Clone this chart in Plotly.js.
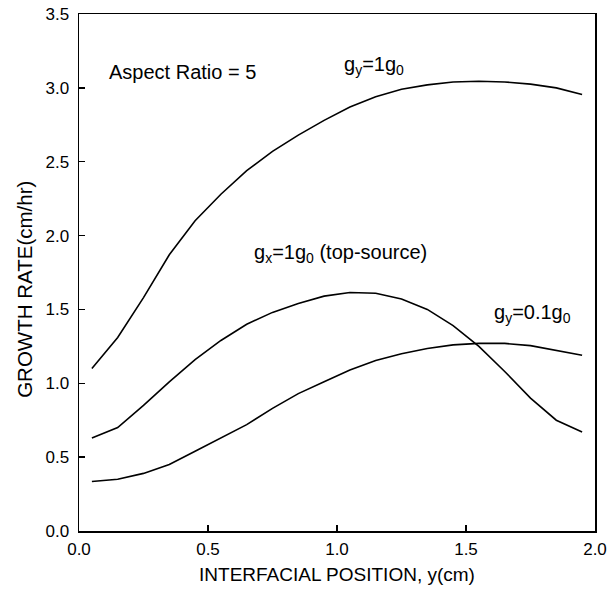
<!DOCTYPE html>
<html>
<head>
<meta charset="utf-8">
<script src="https://cdn.plot.ly/plotly-3.0.1.min.js"></script>
<style>html,body{margin:0;padding:0;background:#fff;}</style>
</head>
<body>
<div id="chart" style="width:616px;height:594px;"></div>
<script>
const position = [0.05,0.15,0.25,0.35,0.45,0.55,0.65,0.75,0.85,0.95,1.05,1.15,1.25,1.35,1.45,1.55,1.65,1.75,1.85,1.95];
const gy1 = [1.10,1.31,1.58,1.87,2.10,2.28,2.44,2.57,2.68,2.78,2.87,2.94,2.99,3.02,3.04,3.045,3.04,3.025,3.00,2.955];
const gx1 = [0.63,0.70,0.85,1.01,1.16,1.29,1.40,1.48,1.54,1.59,1.615,1.61,1.57,1.50,1.39,1.25,1.08,0.90,0.75,0.67];
const gy01 = [0.335,0.35,0.39,0.45,0.54,0.63,0.72,0.83,0.93,1.01,1.09,1.155,1.20,1.235,1.26,1.27,1.27,1.255,1.225,1.19];
const seriesNames = ['g<sub>y</sub>=1g<sub>0</sub>','g<sub>x</sub>=1g<sub>0</sub> (top-source)','g<sub>y</sub>=0.1g<sub>0</sub>'];
const tickVals = [0, 0.5, 1.0, 1.5, 2.0, 2.5, 3.0, 3.5];
const tickText = ['0.0','0.5','1.0','1.5','2.0','2.5','3.0','3.5'];
const xTitle = 'INTERFACIAL POSITION, y(cm)';
const yTitle = 'GROWTH RATE(cm/hr)';

const font = {family: 'Liberation Sans, Arial, sans-serif', color: '#000'};
const mk = (y, name) => ({x: position, y: y, name: name, type: 'scatter', mode: 'lines',
  line: {color: '#000', width: 1.6}, hoverinfo: 'x+y'});

const data = [mk(gy1, seriesNames[0]), mk(gx1, seriesNames[1]), mk(gy01, seriesNames[2])];

const ann = (x, y, text) => ({x: x, y: y, xref: 'x', yref: 'y', text: text, showarrow: false,
  xanchor: 'left', yanchor: 'middle', font: Object.assign({size: 20}, font)});

const layout = {
  width: 616, height: 594,
  margin: {l: 79, r: 21, t: 14, b: 63},
  paper_bgcolor: '#fff', plot_bgcolor: '#fff',
  showlegend: false,
  font: Object.assign({size: 17}, font),
  xaxis: {
    range: [0, 2.0], tickvals: tickVals.slice(0, 5), ticktext: tickText.slice(0, 5),
    ticks: 'inside', ticklen: 6, tickwidth: 1.5, tickcolor: '#000',
    showline: true, linecolor: '#000', linewidth: 1.5, mirror: true,
    showgrid: false, zeroline: false,
    ticklabelstandoff: 2,
    tickfont: Object.assign({size: 17}, font),
    title: {text: xTitle, font: Object.assign({size: 19}, font), standoff: 10}
  },
  yaxis: {
    range: [0, 3.5], tickvals: tickVals, ticktext: tickText,
    ticks: 'inside', ticklen: 6, tickwidth: 1.5, tickcolor: '#000',
    showline: true, linecolor: '#000', linewidth: 1.5, mirror: true,
    showgrid: false, zeroline: false,
    ticklabelstandoff: 5,
    tickfont: Object.assign({size: 17}, font),
    title: {text: ''}
  },
  annotations: [
    ann(0.107, 3.11, 'Aspect Ratio = 5'),
    ann(1.02, 3.15, seriesNames[0]),
    ann(0.67, 1.88, seriesNames[1]),
    ann(1.60, 1.47, seriesNames[2]),
    {xref: 'paper', yref: 'paper', x: -0.107, y: 0.468, text: yTitle, textangle: -90,
     showarrow: false, xanchor: 'center', yanchor: 'middle', font: Object.assign({size: 20.5}, font)}
  ]
};

Plotly.newPlot('chart', data, layout, {displayModeBar: false, staticPlot: true});
</script>
</body>
</html>
